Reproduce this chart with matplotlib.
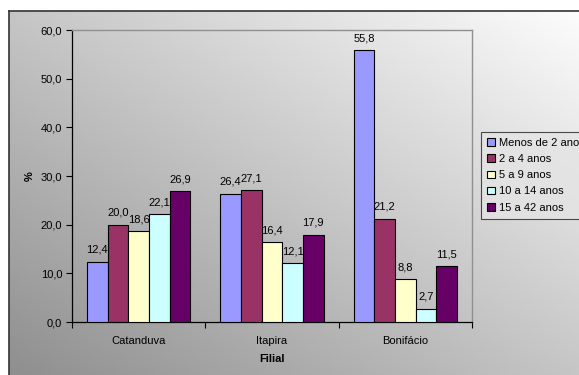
import numpy as np
import matplotlib
matplotlib.use("Agg")
import matplotlib.pyplot as plt

plt.rcParams['font.family'] = ['Liberation Sans', 'DejaVu Sans']

categories = ["Catanduva", "Itapira", "Bonifácio"]
series_names = ["Menos de 2 anos", "2 a 4 anos", "5 a 9 anos", "10 a 14 anos", "15 a 42 anos"]
values = [
    [12.4, 26.4, 55.8],
    [20.0, 27.1, 21.2],
    [18.6, 16.4, 8.8],
    [22.1, 12.1, 2.7],
    [26.9, 17.9, 11.5],
]
colors = ["#9999FF", "#993366", "#FFFFCC", "#CCFFFF", "#660066"]
y_ticks = [0, 10, 20, 30, 40, 50, 60]

FS = 8
W, H = 579, 375
fig = plt.figure(figsize=(W / 100, H / 100), dpi=100)
fig.patch.set_facecolor("white")

# chart-area background with diagonal grey gradient
bg = fig.add_axes([9 / W, 0, 1 - 9 / W, 1 - 11 / H], zorder=-10)
u = np.linspace(0, 1, 300)
v = np.linspace(1, 0, 200)
U, V = np.meshgrid(u, v)
lum = 0.56 + 0.43 * (U + V) / 2
bg.imshow(np.dstack([lum, lum, lum]), extent=[0, 1, 0, 1], aspect="auto", interpolation="bilinear")
bg.set_xlim(0, 1)
bg.set_ylim(0, 1)
bg.axis("off")
fig.add_artist(plt.Line2D([9 / W, 9 / W], [0, 1 - 11 / H], color="#333333", lw=1.2))
fig.add_artist(plt.Line2D([9 / W, 1], [1 - 11 / H, 1 - 11 / H], color="#333333", lw=1.2))

ax = fig.add_axes([72 / W, 1 - 322 / H, 400 / W, 292 / H])
ax.set_facecolor("none")

n = len(series_names)
bw = 0.155
x = np.arange(len(categories))
for i, (name, vals, c) in enumerate(zip(series_names, values, colors)):
    pos = x - bw * n / 2 + bw * (i + 0.5)
    ax.bar(pos, vals, width=bw, color=c, edgecolor="black", linewidth=0.8, label=name, zorder=3)
    for xp, val in zip(pos, vals):
        ax.annotate(f"{val:.1f}".replace(".", ","), (xp, val), xytext=(0, 5),
                    textcoords="offset points", ha="center", va="bottom", fontsize=FS, zorder=4)

ax.set_xlim(-0.5, 2.5)
ax.set_ylim(0, 60)
ax.set_yticks(y_ticks)
ax.set_yticklabels([f"{t:.1f}".replace(".", ",") for t in y_ticks], fontsize=FS)
ax.set_xticks([-0.5, 0.5, 1.5, 2.5])
ax.set_xticklabels([])
ax.set_xticks(x, minor=True)
ax.set_xticklabels(categories, minor=True, fontsize=FS)
ax.tick_params(axis="x", which="minor", length=0, pad=10)
ax.tick_params(axis="x", which="major", length=4, direction="out", width=0.8)
ax.tick_params(axis="y", length=4, direction="out", width=0.8, pad=3)

for s in ["left", "bottom"]:
    ax.spines[s].set_color("black")
    ax.spines[s].set_linewidth(0.9)
for s in ["top", "right"]:
    ax.spines[s].set_color("#909090")
    ax.spines[s].set_linewidth(1.0)

ax.set_ylabel("%", fontsize=FS, fontweight="bold", labelpad=4)
ax.set_xlabel("Filial", fontsize=FS, fontweight="bold", labelpad=6)

leg = fig.legend(loc="upper left", bbox_to_anchor=(481 / W, 1 - 132 / H), fontsize=FS,
                 frameon=True, fancybox=False, handlelength=0.7, handleheight=0.7,
                 handletextpad=0.35, labelspacing=0.55, borderpad=0.55, borderaxespad=0)
leg.get_frame().set_edgecolor("#222222")
leg.get_frame().set_facecolor("#e4e4e4")
leg.get_frame().set_linewidth(0.8)

fig.savefig("out.png", dpi=100)
